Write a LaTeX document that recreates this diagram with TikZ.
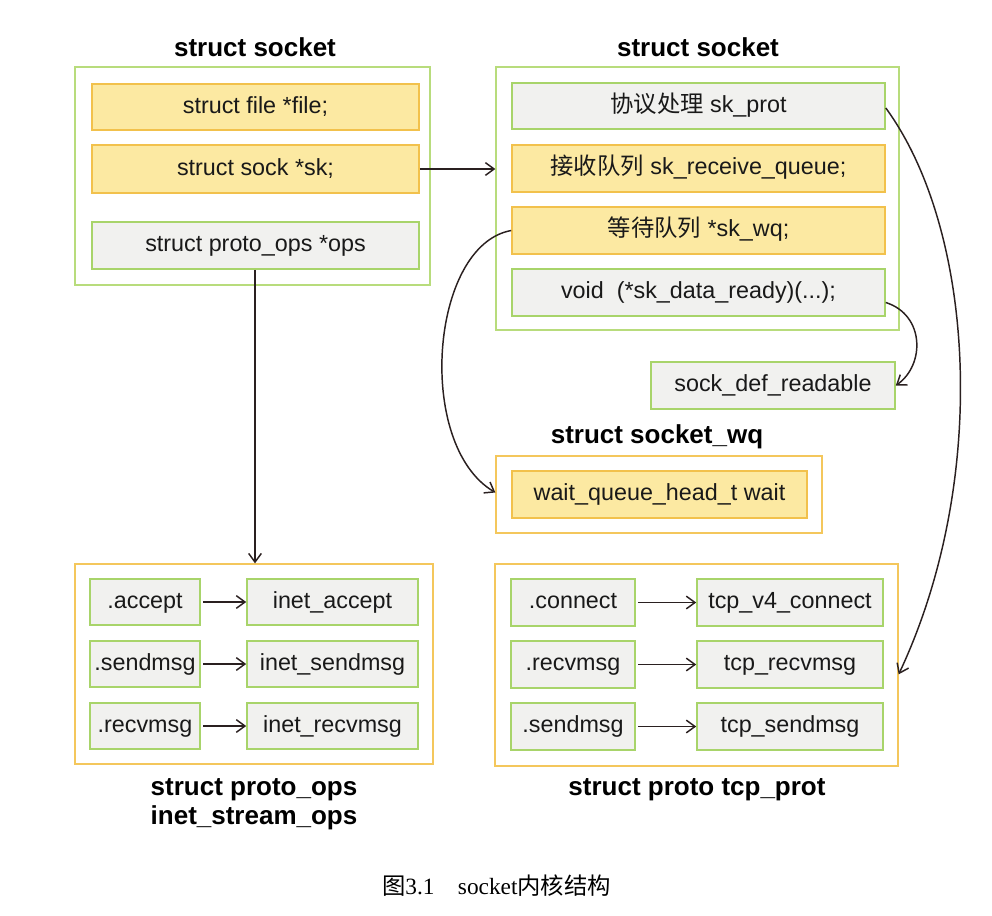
\documentclass[tikz,border=0pt]{standalone}
\usepackage{fontspec}
\setmainfont{Liberation Sans}
\newfontfamily\cjk{Noto Sans CJK SC}
\newfontfamily\capserif{Liberation Serif}
\usetikzlibrary{arrows.meta}

\definecolor{yfill}{HTML}{FCE9A2}
\definecolor{yline}{HTML}{F2C14C}
\definecolor{gfill}{HTML}{F1F1EF}
\definecolor{gline}{HTML}{A8D46A}
\definecolor{outg}{HTML}{B8DC7C}
\definecolor{outy}{HTML}{F4C75C}
\definecolor{ink}{HTML}{2A2020}

\tikzset{
  sz/.style 2 args={minimum width=#1*0.75pt, minimum height=#2*0.75pt},
  field/.style={draw, line width=1.2pt, inner sep=0pt, text height=12.6pt, text depth=3.6pt,
    font=\fontsize{17.5}{20}\selectfont, text=black!90},
  yfield/.style={field, draw=yline, fill=yfill},
  gfield/.style={field, draw=gline, fill=gfill},
  outerg/.style={draw=outg, line width=1pt, fill=white, inner sep=0pt},
  outery/.style={draw=outy, line width=1pt, fill=white, inner sep=0pt},
  title/.style={font=\bfseries\fontsize{19.5}{22}\selectfont, text=black, inner sep=0pt},
  link/.style={draw=ink, line width=1.1pt, -{Straight Barb[length=6.5pt,width=9.5pt]}}
}

\begin{document}
\begin{tikzpicture}[x=0.75pt,y=-0.75pt]
\useasboundingbox (0,0) rectangle (992,915);

% struct socket (left)
\node[title] (t1) at (255,47) {struct socket};
\node[outerg, sz={355}{218}] (sock) at (252.5,176) {};
\node[yfield, sz={327}{46}] (file) at (255.5,107) {struct file *file;};
\node[yfield, sz={327}{48}] (sk) at (255.5,169) {struct sock *sk;};
\node[gfield, sz={327}{47}] (ops) at (255.5,245.5) {struct proto\_ops *ops};

% struct sock (right)
\node[title] (t2) at (698,47) {struct socket};
\node[outerg, sz={403}{263}] (sockr) at (697.5,198.5) {};
\node[gfield, sz={373}{46}] (prot) at (698.5,106) {{\cjk 协议处理} sk\_prot};
\node[yfield, sz={373}{47}] (recvq) at (698.5,168.5) {{\cjk 接收队列} sk\_receive\_queue;};
\node[yfield, sz={373}{47}] (wq) at (698.5,230.5) {{\cjk 等待队列} *sk\_wq;};
\node[gfield, sz={373}{47}] (ready) at (698.5,292.5) {void\ \ (*sk\_data\_ready)(...);};

\node[gfield, sz={244}{47}] (readable) at (773,385.5) {sock\_def\_readable};

% struct socket_wq
\node[title] (t3) at (657,437) {struct socket\_wq};
\node[outery, sz={326}{77}] (sockwq) at (659,494.5) {};
\node[yfield, sz={295}{47}] (wait) at (659.5,494.5) {wait\_queue\_head\_t wait};

% struct proto_ops inet_stream_ops
\node[outery, sz={358}{200}] (pops) at (254,664) {};
\node[gfield, sz={110}{46}] (acc) at (145,602) {.accept};
\node[gfield, sz={171}{46}] (iacc) at (332.5,602) {inet\_accept};
\node[gfield, sz={110}{46}] (snd) at (145,664) {.sendmsg};
\node[gfield, sz={171}{46}] (isnd) at (332.5,664) {inet\_sendmsg};
\node[gfield, sz={110}{46}] (rcv) at (145,726) {.recvmsg};
\node[gfield, sz={171}{46}] (ircv) at (332.5,726) {inet\_recvmsg};
\node[title] (t4) at (254,790) {struct proto\_ops};
\node[title] (t5) at (254,818) {inet\_stream\_ops};

% struct proto tcp_prot
\node[outery, sz={403}{202}] (tcp) at (696.5,665) {};
\node[gfield, sz={124}{47}] (con) at (573,602.5) {.connect};
\node[gfield, sz={186}{47}] (tcon) at (790,602.5) {tcp\_v4\_connect};
\node[gfield, sz={124}{47}] (trcv) at (573,664.5) {.recvmsg};
\node[gfield, sz={186}{47}] (ttrcv) at (790,664.5) {tcp\_recvmsg};
\node[gfield, sz={124}{47}] (tsnd) at (573,726.5) {.sendmsg};
\node[gfield, sz={186}{47}] (ttsnd) at (790,726.5) {tcp\_sendmsg};
\node[title] (t6) at (697,790) {struct proto tcp\_prot};

% connectors
\draw[link] (sk.east) -- (sockr.west |- sk.east);
\draw[link] (ops.south -| sock.south) ++(2.5,0) coordinate (opsfoot) -- (opsfoot |- pops.north);
\draw[link] ([yshift=-1.5pt]prot.east) .. controls (975,230) and (990,480) .. ([yshift=-7pt]tcp.east);
\draw[link] ([yshift=-7.5pt]ready.east) .. controls (925,315) and (925,365) .. (readable.east);
\draw[link] (wq.west) .. controls (430,245) and (415,445) .. ([yshift=1.5pt]sockwq.west);
\draw[link] ([xshift=2pt]acc.east) -- (iacc);
\draw[link] ([xshift=2pt]snd.east) -- (isnd);
\draw[link] ([xshift=2pt]rcv.east) -- (ircv);
\draw[link] ([xshift=2pt]con.east) -- (tcon);
\draw[link] ([xshift=2pt]trcv.east) -- (ttrcv);
\draw[link] ([xshift=2pt]tsnd.east) -- (ttsnd);

% caption
\node[inner sep=0pt, font=\fontsize{17.5}{20}\selectfont] (cap) at (496.5,886)
  {{\cjk 图}\capserif 3.1\quad socket{\cjk 内核结构}};
\end{tikzpicture}
\end{document}
